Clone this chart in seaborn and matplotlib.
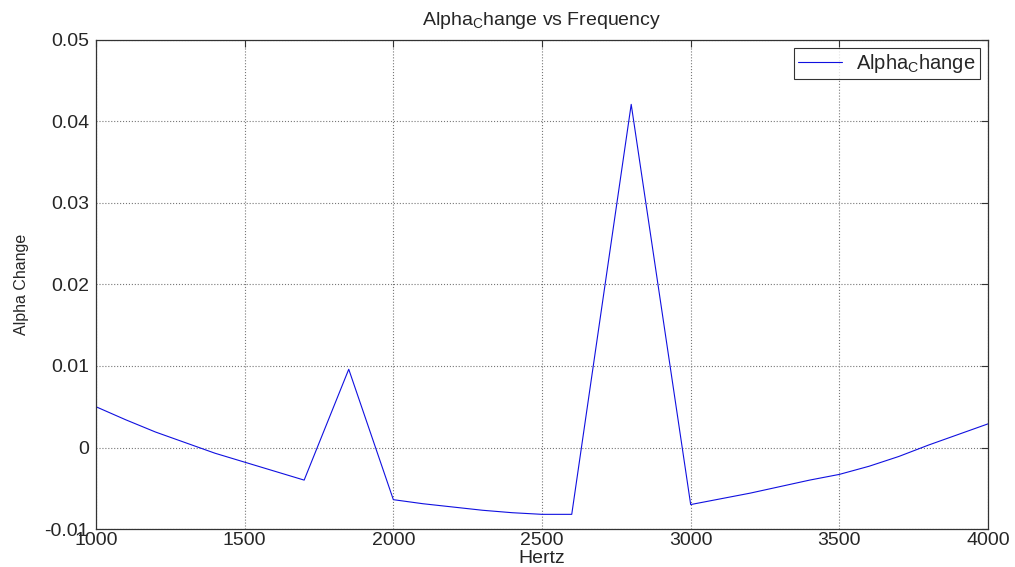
import pandas as pd
import seaborn as sns
import matplotlib.pyplot as plt
from matplotlib.ticker import FuncFormatter

# frequency (Hz) and alpha change
hertz = [1000, 1100, 1200, 1300, 1400, 1500, 1600, 1700, 1850, 2000,
         2100, 2200, 2300, 2400, 2500, 2600, 2800, 3000, 3200, 3400,
         3500, 3600, 3700, 3800, 3900, 4000]
alpha_change = [0.0050, 0.0034, 0.0019, 0.0006, -0.0007, -0.0018, -0.0029, -0.0040,
                0.0096, -0.0064, -0.0069, -0.0073, -0.0077, -0.0080, -0.0082, -0.0082,
                0.0421, -0.0070, -0.0056, -0.0040, -0.0033, -0.0023, -0.0011, 0.0003,
                0.0016, 0.0029]
x_ticks = [1000, 1500, 2000, 2500, 3000, 3500, 4000]
y_ticks = [-0.01, 0, 0.01, 0.02, 0.03, 0.04, 0.05]

df = pd.DataFrame({'Hertz': hertz, 'Alpha Change': alpha_change})

sns.set_style('white')
plt.rcParams['font.family'] = ['Liberation Sans', 'DejaVu Sans']
plt.rcParams['mathtext.default'] = 'regular'
plt.rcParams['xtick.direction'] = 'in'
plt.rcParams['ytick.direction'] = 'in'

fig = plt.figure(figsize=(10.15, 5.67), dpi=100)
ax = fig.add_axes([0.0946, 0.067, 0.8788, 0.8625])

sns.lineplot(data=df, x='Hertz', y='Alpha Change', color='#1010e0', linewidth=0.8,
             label='Alpha$_C$hange', ax=ax)

ax.set_xlim(1000, 4000)
ax.set_ylim(-0.01, 0.05)
ax.set_xticks(x_ticks)
ax.set_yticks(y_ticks)
ax.yaxis.set_major_formatter(FuncFormatter(lambda v, p: '0' if abs(v) < 1e-12 else f'{v:g}'))
ax.tick_params(axis='both', labelsize=14, length=5, width=0.8, color='#333333',
               top=True, right=True)
ax.tick_params(axis='x', pad=2)
ax.tick_params(axis='y', pad=5)
ax.grid(True, linestyle=':', color='#777777', linewidth=0.8)
for s in ax.spines.values():
    s.set_color('#333333')
    s.set_linewidth(0.9)

ax.set_xlabel('Hertz', fontsize=14, labelpad=1)
ax.set_ylabel('Alpha Change', fontsize=11.5, labelpad=11)
ax.set_title('Alpha$_C$hange vs Frequency', fontsize=14, pad=11)

leg = ax.legend(loc='upper right', fontsize=14.5, frameon=True, fancybox=False,
                edgecolor='black', handlelength=2.2, handletextpad=0.7,
                borderpad=0.2, borderaxespad=0.4)
leg.get_frame().set_linewidth(0.8)

fig.savefig('out.png', dpi=100)
